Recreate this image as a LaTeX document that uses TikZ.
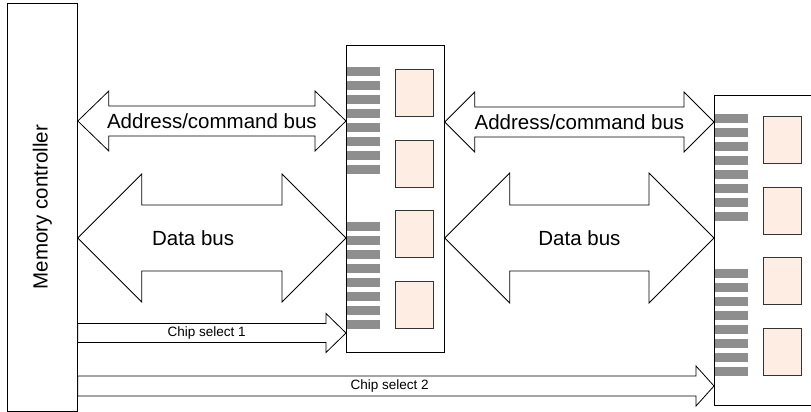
\documentclass[tikz,border=0pt]{standalone}
\usepackage{fontspec}
\setmainfont{Liberation Sans}
\usetikzlibrary{calc}
\definecolor{chipfill}{RGB}{253,237,226}
\definecolor{pingray}{RGB}{142,142,142}

% two-headed bus from tip #1 to tip #2: shaft half width, head half width, head length
\newcommand{\dbus}[5]{%
  \draw[bus] (#1) -- ++(#5,-#4) -- ++(0,#4-#3) -- ($(#2)+(-#5,-#3)$) -- ++(0,#3-#4)
    -- (#2) -- ++(-#5,#4) -- ++(0,#3-#4) -- ($(#1)+(#5,#3)$) -- ++(0,#4-#3) -- cycle;}
% one-headed line from tail #1 to tip #2
\newcommand{\sbus}[5]{%
  \draw[bus] ($(#1)+(0,-#3)$) -- ($(#2)+(-#5,-#3)$) -- ++(0,#3-#4) -- (#2)
    -- ++(-#5,#4) -- ++(0,#3-#4) -- ($(#1)+(0,#3)$) -- cycle;}

\begin{document}
\begin{tikzpicture}[x=1pt, y=-1pt,
  box/.style={draw, line width=0.8pt, inner sep=0pt, anchor=north west},
  chip/.style={draw=black!80, fill=chipfill, line width=0.8pt, inner sep=0pt,
    minimum width=38pt, minimum height=47pt, anchor=north west},
  pin/.style={fill=pingray},
  bus/.style={draw, fill=white, line width=0.8pt, line join=miter},
  buslabel/.style={font=\fontsize{20.5}{24}\selectfont, inner sep=0pt},
  cslabel/.style={font=\fontsize{13.5}{16}\selectfont, inner sep=0pt}
]
\useasboundingbox (0,0) rectangle (811,412);

\node[box, minimum width=70pt, minimum height=407.5pt] (mc) at (7,3) {};
\node[buslabel, rotate=90] (mctext) at (mc.center) {Memory controller};

\node[box, minimum width=98pt, minimum height=307pt] (d1) at (346,45) {};
\node[box, minimum width=98pt, minimum height=310pt] (d2) at (714,95) {};

% contact pins and memory chips on each module
\foreach \m/\o in {d1/22, d2/19} {
  \foreach \k in {0,...,7} {
    \fill[pin] ($(\m.north west)+(1,\o+14*\k)$) rectangle ++(33,9);
    \fill[pin] ($(\m.north west)+(1,\o+155+14*\k)$) rectangle ++(33,9);
  }
  \foreach \k in {0,...,3}
    \node[chip] (\m chip\k) at ($(\m.north west)+(49,\o+2+70.7*\k)$) {};
}

% tips of the buses
\coordinate (mcA) at ($(mc.north east)+(0,118)$);
\coordinate (mcD) at ($(mc.north east)+(0,235)$);
\coordinate (mcS) at ($(mc.north east)+(0,330)$);
\coordinate (mcT) at ($(mc.north east)+(0,383)$);
\coordinate (d1A) at ($(d1.north west)+(0,76)$);
\coordinate (d1D) at ($(d1.north west)+(0,193)$);
\coordinate (d1S) at ($(d1.north west)+(0,288)$);
\coordinate (d1B) at ($(d1.north east)+(0,77)$);
\coordinate (d1E) at ($(d1.north east)+(0,193)$);
\coordinate (d2A) at ($(d2.north west)+(0,27)$);
\coordinate (d2D) at ($(d2.north west)+(0,143)$);
\coordinate (d2T) at ($(d2.north west)+(0,291)$);

\dbus{mcA}{d1A}{15}{30}{31}
\dbus{mcD}{d1D}{33}{64}{64}
\sbus{mcS}{d1S}{9.5}{19.5}{20}
\dbus{d1B}{d2A}{15}{30}{30}
\dbus{d1E}{d2D}{33}{65}{65}
\sbus{mcT}{d2T}{10}{20}{18}

\node[buslabel] (addr1) at ($(mcA)!0.5!(d1A)$) {Address/command bus};
\node[buslabel] (data1) at ($(mcD)!0.43!(d1D)$) {Data bus};
\node[cslabel] (cs1) at ($(mcS)!0.48!(d1S)$) {Chip select 1};
\node[buslabel] (addr2) at ($(d1B)!0.5!(d2A)$) {Address/command bus};
\node[buslabel] (data2) at ($(d1E)!0.5!(d2D)$) {Data bus};
\node[cslabel] (cs2) at ($(mcT)!0.49!(d2T)$) {Chip select 2};
\end{tikzpicture}
\end{document}
